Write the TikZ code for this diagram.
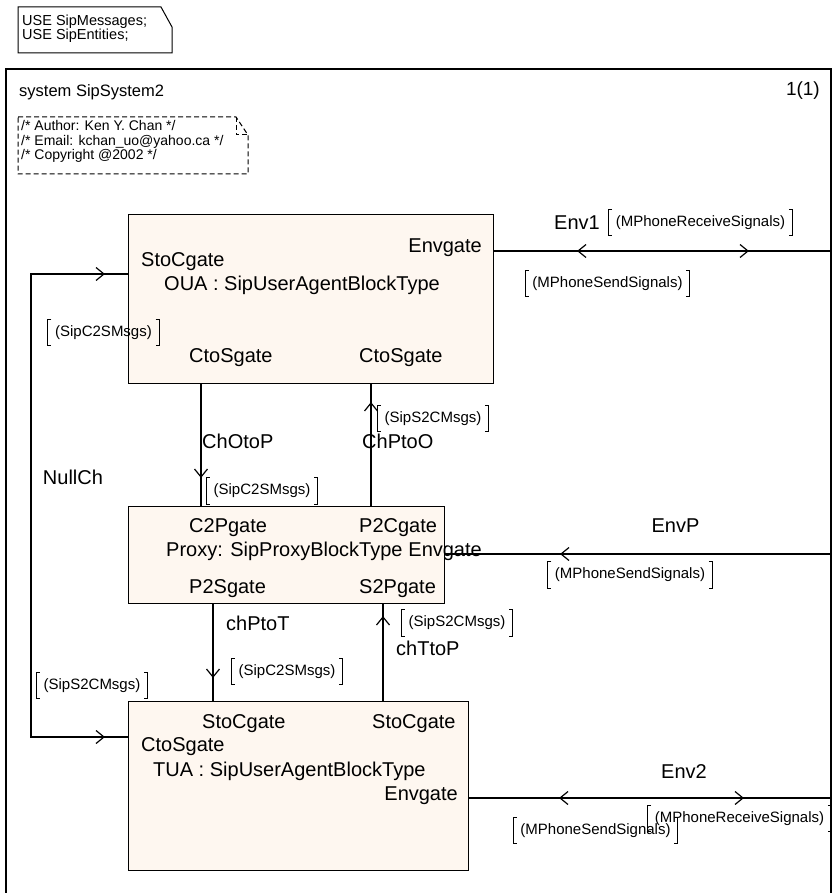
\documentclass[tikz,border=0pt]{standalone}
\usepackage{fontspec}
\setmainfont{Liberation Sans}
\definecolor{blockfill}{RGB}{254,247,240}
\tikzset{
 blk/.style={draw, line width=1.2pt, fill=blockfill, anchor=north west, inner sep=0pt},
 lbl/.style={font=\fontsize{20}{24}\selectfont, inner sep=0pt},
 notetxt/.style={font=\fontsize{14.5}{17}\selectfont, inner sep=0pt, anchor=base west},
 comtxt/.style={font=\fontsize{14}{17}\selectfont, inner sep=0pt, anchor=base west},
 sig/.style={font=\fontsize{15}{18}\selectfont, inner xsep=7pt, inner ysep=0pt, minimum height=26pt},
 brk/.style={line width=1pt},
 chan/.style={line width=1.2pt},
 frm/.style={line width=1.8pt},
 chevs/.style={line width=1.2pt},
 dashbox/.style={line width=1pt, dash pattern=on 5pt off 3pt},
}
\newcommand\sigl[3]{%
 \node[sig] (#1) at (#2) {#3};
 \draw[brk] ([xshift=3.5pt]#1.north west) -- (#1.north west) -- (#1.south west) -- ([xshift=3.5pt]#1.south west)
            ([xshift=-3.5pt]#1.north east) -- (#1.north east) -- (#1.south east) -- ([xshift=-3.5pt]#1.south east);}
\newcommand\chv[2]{\draw[chevs, shift={(#1)}, rotate=#2] (-8,-6.5) -- (0,0) -- (-8,6.5);}
\begin{document}
\begin{tikzpicture}[x=1pt,y=-1pt]
\useasboundingbox (0,0) rectangle (834,893);
% package note
\draw[line width=1pt] (18,7) -- (161,7) -- (172,27) -- (172,53) -- (18,53) -- cycle;
\node[notetxt] (u1) at (22,26) {USE SipMessages;};
\node[notetxt] (u2) at (22,40) {USE SipEntities;};
% frame
\draw[frm] (6,893) -- (6,69) -- (831,69) -- (831,893);
\coordinate (fr) at (831,0);
\node[lbl, font=\fontsize{16.5}{20}\selectfont, anchor=base west] (title) at (19,96.7) {system SipSystem2};
\node[lbl, font=\fontsize{19}{22}\selectfont, anchor=base east] (page) at (820,96) {1(1)};
% comment
\draw[dashbox] (18,117) -- (236,117) -- (248,135) -- (248,174) -- (18,174) -- cycle;
\draw[dashbox] (236,117) -- (236,135) -- (248,135);
\node[comtxt] (c1) at (21,131) {/* Author: Ken Y. Chan */};
\node[comtxt] (c2) at (21,146) {/* Email: kchan\_uo@yahoo.ca */};
\node[comtxt] (c3) at (21,159.5) {/* Copyright @2002 */};
% blocks
\node[blk, minimum width=365pt, minimum height=169pt] (oua) at (128,214) {};
\node[blk, minimum width=316pt, minimum height=97pt] (proxy) at (128,506) {};
\node[blk, minimum width=340pt, minimum height=169pt] (tua) at (128,701) {};
% channel coordinates
\coordinate (xOP) at (201,0);
\coordinate (xPO) at (371,0);
\coordinate (xPT) at (213,0);
\coordinate (xTP) at (383,0);
\coordinate (xN) at (31,0);
\coordinate (yE1) at (0,251);
\coordinate (yEP) at (0,554);
\coordinate (yE2) at (0,798);
\coordinate (yN1) at (0,274);
\coordinate (yN2) at (0,737);
% channels
\draw[chan] (xOP |- oua.south) -- (xOP |- proxy.north);
\draw[chan] (xPO |- proxy.north) -- (xPO |- oua.south);
\draw[chan] (xPT |- proxy.south) -- (xPT |- tua.north);
\draw[chan] (xTP |- tua.north) -- (xTP |- proxy.south);
\draw[chan] (oua.west |- yN1) -- (xN |- yN1) -- (xN |- yN2) -- (tua.west |- yN2);
\draw[chan] (oua.east |- yE1) -- (fr |- yE1);
\draw[chan] (proxy.east |- yEP) -- (fr |- yEP);
\draw[chan] (tua.east |- yE2) -- (fr |- yE2);
% direction chevrons
\chv{578,251}{180}
\chv{748,251}{0}
\chv{561,554}{180}
\chv{560,798}{180}
\chv{743,798}{0}
\chv{201,477}{-90}
\chv{371,403}{90}
\chv{213,677}{-90}
\chv{383,617}{90}
\chv{104,274}{0}
\chv{104,737}{0}
% OUA texts
\node[lbl, anchor=base east] (oenv) at (482,252.7) {Envgate};
\node[lbl, anchor=base west] (osc) at (141,266) {StoCgate};
\node[lbl, anchor=base west] (oname) at (164,290) {OUA : SipUserAgentBlockType};
\node[lbl, anchor=base west] (ocs1) at (189,362.7) {CtoSgate};
\node[lbl, anchor=base west] (ocs2) at (359,362.7) {CtoSgate};
% Proxy texts
\node[lbl, anchor=base west] (pc2p) at (189,532.7) {C2Pgate};
\node[lbl, anchor=base west] (pp2c) at (359,532.7) {P2Cgate};
\node[lbl, anchor=base west] (pname) at (166,556.7) {Proxy: SipProxyBlockType};
\node[lbl, anchor=base east] (penv) at (482,556.7) {Envgate};
\node[lbl, anchor=base west] (pp2s) at (189,593.3) {P2Sgate};
\node[lbl, anchor=base west] (ps2p) at (359,593.3) {S2Pgate};
% TUA texts
\node[lbl, anchor=base west] (tsc1) at (202,728.3) {StoCgate};
\node[lbl, anchor=base west] (tsc2) at (372,728.3) {StoCgate};
\node[lbl, anchor=base west] (tcs) at (141,751.7) {CtoSgate};
\node[lbl, anchor=base west] (tname) at (153,776) {TUA : SipUserAgentBlockType};
\node[lbl, anchor=base east] (tenv) at (458,800) {Envgate};
% channel names
\node[lbl, anchor=base west] (nOP) at (202,448.3) {ChOtoP};
\node[lbl, anchor=base west] (nPO) at (362,448.3) {ChPtoO};
\node[lbl, anchor=base west] (nPT) at (226,630) {chPtoT};
\node[lbl, anchor=base west] (nTP) at (396,655) {chTtoP};
\node[lbl, anchor=base] (nN) at (73,484) {NullCh};
\node[lbl, anchor=base west] (nE1) at (554,229.3) {Env1};
\node[lbl, anchor=base] (nEP) at (675.5,532.7) {EnvP};
\node[lbl, anchor=base] (nE2) at (684,778.3) {Env2};
% signal lists
\sigl{s1}{700.5,222.5}{(MPhoneReceiveSignals)}
\sigl{s2}{607.5,283.5}{(MPhoneSendSignals)}
\sigl{s3}{103.5,332.5}{(SipC2SMsgs)}
\sigl{s4}{262,491}{(SipC2SMsgs)}
\sigl{s5}{433,418.5}{(SipS2CMsgs)}
\sigl{s6}{630,575}{(MPhoneSendSignals)}
\sigl{s7}{457,623}{(SipS2CMsgs)}
\sigl{s8}{287,671.5}{(SipC2SMsgs)}
\sigl{s9}{92,685.5}{(SipS2CMsgs)}
\sigl{s10}{595.5,830.5}{(MPhoneSendSignals)}
\sigl{s11}{739.5,818.5}{(MPhoneReceiveSignals)}
\end{tikzpicture}
\end{document}
